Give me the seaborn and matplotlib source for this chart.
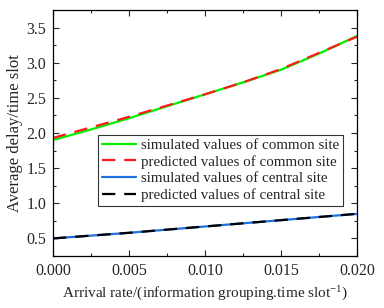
import matplotlib
matplotlib.use("Agg")
import matplotlib.pyplot as plt
import seaborn as sns
import pandas as pd
from matplotlib.ticker import MultipleLocator, AutoMinorLocator

rate = [0.0, 0.0025, 0.005, 0.0075, 0.01, 0.0125, 0.015, 0.0175, 0.02]
sim_common = [1.90, 2.05, 2.21, 2.38, 2.55, 2.72, 2.90, 3.13, 3.38]
pred_common = [1.93, 2.08, 2.23, 2.39, 2.55, 2.72, 2.91, 3.14, 3.37]
sim_central = [0.50, 0.54, 0.58, 0.625, 0.67, 0.715, 0.76, 0.805, 0.85]
pred_central = [0.50, 0.54, 0.58, 0.625, 0.67, 0.715, 0.76, 0.805, 0.85]

labels = ["simulated values of common site", "predicted values of common site",
          "simulated values of central site", "predicted values of central site"]
series = [sim_common, pred_common, sim_central, pred_central]

sns.set_style("ticks")
plt.rcParams['font.family'] = ['Liberation Serif', 'DejaVu Serif']
plt.rcParams['mathtext.fontset'] = 'stix'

rows = []
for lab, vals in zip(labels, series):
    for x, y in zip(rate, vals):
        rows.append({"rate": x, "delay": y, "series": lab})
df = pd.DataFrame(rows)

fig = plt.figure(figsize=(3.84, 3.08), dpi=100)
ax = fig.add_axes([53/384, 1-256/308, 304/384, 246/308])

colors = ["#00f000", "#ff1a1a", "#1f70e0", "#000000"]
styles = [(None, None), (6, 4), (None, None), (6, 4)]
for lab, c, st in zip(labels, colors, styles):
    sub = df[df.series == lab]
    l = sns.lineplot(data=sub, x="rate", y="delay", ax=ax, color=c, lw=1.6, label=lab)
    if st[0] is not None:
        l.lines[-1].set_dashes(st)

ax.set_xlim(0, 0.02)
ax.set_ylim(0.25, 3.75)
ax.xaxis.set_major_locator(MultipleLocator(0.005))
ax.yaxis.set_major_locator(MultipleLocator(0.5))
ax.xaxis.set_minor_locator(AutoMinorLocator(2))
ax.yaxis.set_minor_locator(AutoMinorLocator(2))
ax.tick_params(which='both', direction='in', top=True, right=True, labelsize=11.5, width=0.8)
ax.tick_params(which='major', length=4, pad=5)
ax.tick_params(which='minor', length=2)
ax.xaxis.set_major_formatter(matplotlib.ticker.FormatStrFormatter('%.3f'))
ax.yaxis.set_major_formatter(matplotlib.ticker.FormatStrFormatter('%.1f'))
for s in ax.spines.values():
    s.set_linewidth(0.9)
    s.set_color('black')

ax.set_xlabel("Arrival rate/(information grouping.time slot$^{\\mathregular{-1}}$)", fontsize=11, labelpad=3)
ax.set_ylabel("Average delay/time slot", fontsize=12, labelpad=2)

leg = ax.legend(loc="lower left", bbox_to_anchor=(0.148, 0.205), fontsize=10.8,
                frameon=True, fancybox=False, edgecolor='black', handlelength=2.3,
                borderpad=0.25, labelspacing=0.2, handletextpad=0.35, borderaxespad=0)
leg.get_frame().set_linewidth(0.8)

fig.savefig("out.png", dpi=100)
